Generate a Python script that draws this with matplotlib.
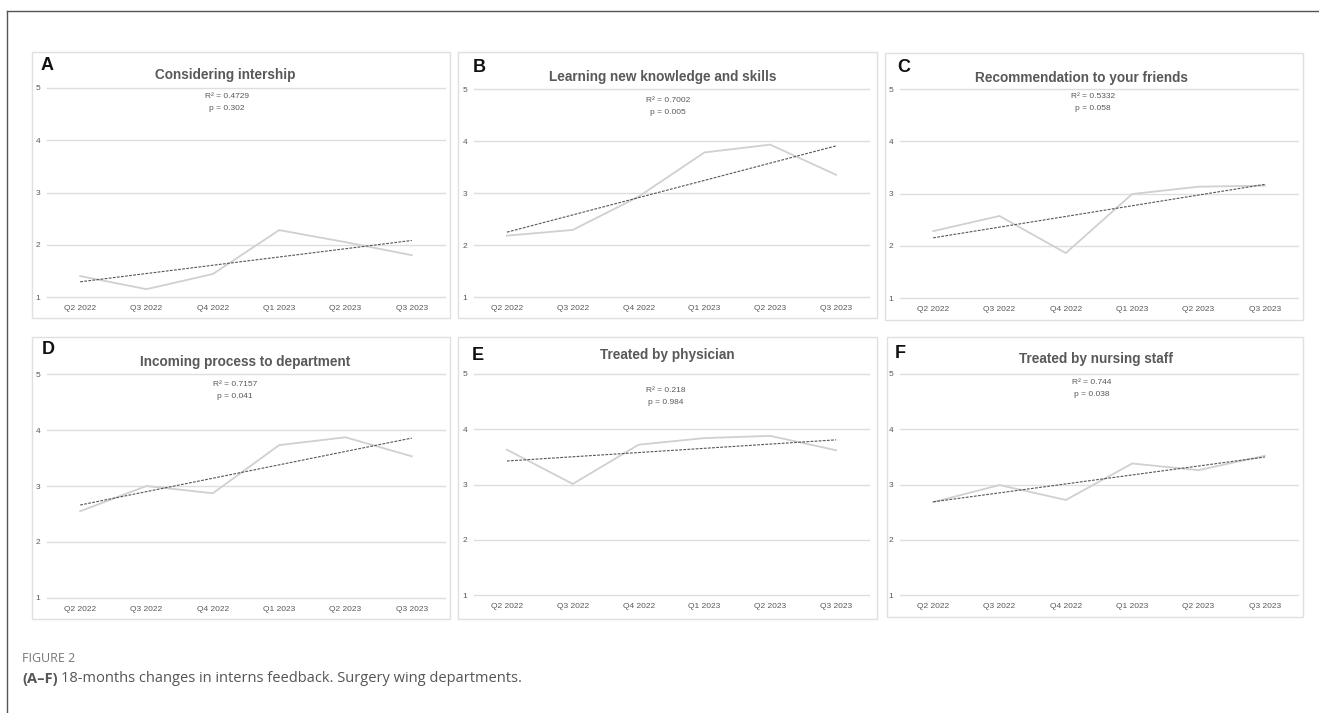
import numpy as np
import matplotlib
matplotlib.use("Agg")
import matplotlib.pyplot as plt
from matplotlib.patches import Rectangle
from matplotlib.lines import Line2D

# ---------------- data ----------------
quarters = ["Q2 2022", "Q3 2022", "Q4 2022", "Q1 2023", "Q2 2023", "Q3 2023"]
panel_letters = ["A", "B", "C", "D", "E", "F"]
titles = ["Considering intership", "Learning new knowledge and skills",
          "Recommendation to your friends", "Incoming process to department",
          "Treated by physician", "Treated by nursing staff"]
r2_labels = ["R² = 0.4729", "R² = 0.7002", "R² = 0.5332", "R² = 0.7157", "R² = 0.218", "R² = 0.744"]
p_labels = ["p = 0.302", "p = 0.005", "p = 0.058", "p = 0.041", "p = 0.984", "p = 0.038"]
vals_A = [1.40, 1.15, 1.44, 2.28, 2.05, 1.80]
vals_B = [2.18, 2.29, 2.93, 3.78, 3.93, 3.35]
vals_C = [2.28, 2.57, 1.86, 2.99, 3.13, 3.15]
vals_D = [2.55, 3.00, 2.87, 3.73, 3.87, 3.53]
vals_E = [3.63, 3.01, 3.72, 3.84, 3.88, 3.62]
vals_F = [2.68, 2.99, 2.72, 3.38, 3.26, 3.52]
series = [vals_A, vals_B, vals_C, vals_D, vals_E, vals_F]
y_ticks = [1, 2, 3, 4, 5]

W, H = 1319, 713
fig = plt.figure(figsize=(W / 100, H / 100), dpi=100)
fig.patch.set_facecolor("white")

NARROW = ["Liberation Sans Narrow", "Liberation Sans", "DejaVu Sans"]
GRAY_TXT = "#595959"

def fx(px):
    return px / W

def fy(py):
    return 1 - py / H

# layout (pixels): box (x0,y0,x1,y1), axes (x0,x1,y_top(5),y_bottom(1))
layout = [
    dict(box=(32, 52, 450, 318), ax=(47, 445, 88, 297), title=(225, 75), stat=(227, 97), letter=(41, 65)),
    dict(box=(458, 52, 877, 318), ax=(474, 869, 89, 297), title=(663, 77), stat=(668, 100), letter=(473, 68)),
    dict(box=(885, 53, 1303, 320), ax=(900, 1298, 89, 298), title=(1081, 78), stat=(1093, 97), letter=(897, 68)),
    dict(box=(32, 337, 450, 619), ax=(47, 445, 374, 598), title=(245, 362), stat=(235, 384), letter=(42, 350)),
    dict(box=(458, 337, 877, 619), ax=(474, 869, 374, 595), title=(667, 355), stat=(666, 391), letter=(472, 355)),
    dict(box=(887, 337, 1303, 617), ax=(900, 1298, 374, 595), title=(1096, 359), stat=(1092, 383), letter=(895, 353)),
]

# outer frame (top and left lines)
fig.add_artist(Line2D([fx(7), fx(7)], [fy(11), fy(H + 5)], color="#555555", lw=1.0, transform=fig.transFigure))
fig.add_artist(Line2D([fx(7), fx(W + 5)], [fy(11), fy(11)], color="#555555", lw=1.0, transform=fig.transFigure))

x = np.arange(len(quarters))
for i, L in enumerate(layout):
    bx0, by0, bx1, by1 = L["box"]
    fig.add_artist(Rectangle((fx(bx0), fy(by1)), fx(bx1 - bx0), (by1 - by0) / H,
                             transform=fig.transFigure, facecolor="white",
                             edgecolor="#e0e0e0", lw=1.0, zorder=0))
    ax0, ax1, yt, yb = L["ax"]
    ax = fig.add_axes([fx(ax0), fy(yb), fx(ax1 - ax0), (yb - yt) / H])
    ax.set_facecolor("none")
    for s in ax.spines.values():
        s.set_visible(False)
    ax.set_xlim(-0.5, len(quarters) - 0.5)
    ax.set_ylim(min(y_ticks), max(y_ticks))
    for t in y_ticks:
        ax.axhline(t, color="#dedede", lw=1.0, clip_on=False, zorder=1)
    y = np.array(series[i])
    ax.plot(x, y, color="#d0d0d0", lw=1.3, zorder=2, solid_joinstyle="miter")
    coef = np.polyfit(x, y, 1)
    ax.plot(x, np.polyval(coef, x), color="#555555", lw=0.8, ls=(0, (2.5, 1.2)), zorder=3)
    ax.set_xticks(x)
    ax.set_xticklabels(quarters, fontsize=6.0, color=GRAY_TXT, family=NARROW)
    ax.set_yticks(y_ticks)
    ax.set_yticklabels([str(t) for t in y_ticks], fontsize=6.0, color=GRAY_TXT, family=NARROW)
    ax.tick_params(length=0)
    ax.tick_params(axis="y", pad=5)
    ax.tick_params(axis="x", pad=5.5)

    tx, ty = L["title"]
    fig.text(fx(tx), fy(ty), titles[i], ha="center", va="center", fontsize=9.8,
             fontweight="bold", color=GRAY_TXT, family=NARROW)
    sx, sy = L["stat"]
    fig.text(fx(sx), fy(sy), r2_labels[i], ha="center", va="center", fontsize=6.0,
             color=GRAY_TXT, family=NARROW)
    fig.text(fx(sx), fy(sy + 12), p_labels[i], ha="center", va="center", fontsize=6.0,
             color=GRAY_TXT, family=NARROW)
    lx, ly = L["letter"]
    fig.text(fx(lx), fy(ly), panel_letters[i], ha="left", va="center", fontsize=13,
             fontweight="bold", color="#111111", family=["Liberation Sans", "DejaVu Sans"])

# caption
CAP = ["Open Sans", "DejaVu Sans"]
fig.text(fx(22), fy(658), "FIGURE 2", ha="left", va="center", fontsize=9, color="#777777", family=CAP)
bold = fig.text(fx(22), fy(679), "(A–F)", ha="left", va="center", fontsize=10.5,
                fontweight="bold", color="#555555", family=CAP)
fig.canvas.draw()
bb = bold.get_window_extent(renderer=fig.canvas.get_renderer())
fig.text(bb.x1 / W + fx(3), fy(679), "18-months changes in interns feedback. Surgery wing departments.",
         ha="left", va="center", fontsize=10.5, color="#555555", family=CAP)

fig.savefig("out.png", dpi=100, facecolor="white")
